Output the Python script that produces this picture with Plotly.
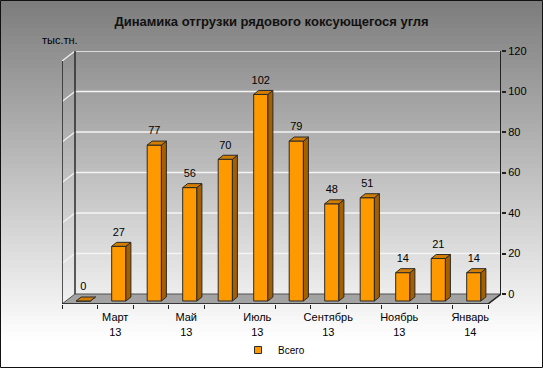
import plotly.graph_objects as go

# ---------------- data ----------------
months = ["Февраль 13", "Март 13", "Апрель 13", "Май 13", "Июнь 13", "Июль 13",
          "Август 13", "Сентябрь 13", "Октябрь 13", "Ноябрь 13", "Декабрь 13", "Январь 14"]
values = [0, 27, 77, 56, 70, 102, 79, 48, 51, 14, 21, 14]
tick_labels = ["Март<br>13", "Май<br>13", "Июль<br>13", "Сентябрь<br>13", "Ноябрь<br>13", "Январь<br>14"]
tick_months = ["Март 13", "Май 13", "Июль 13", "Сентябрь 13", "Ноябрь 13", "Январь 14"]
y_ticks = [0, 20, 40, 60, 80, 100, 120]
series_name = "Всего"
title_text = "Динамика отгрузки рядового коксующегося угля"
unit_text = "тыс.тн."

# ---------------- layout geometry (style) ----------------
W, H = 543, 368
L, R, T, B = 62, 501, 51, 304
PW, PH = R - L, B - T
XSTEP = 35.5            # px per category
YS = 2.025              # px per unit
BAR_BASE_PX = 301
BACK_ZERO_PX = 294
DX = 13 / XSTEP         # wall depth in x units
DY2 = 10 / YS           # wall depth in y units
BW = 0.40               # bar width
BSHIFT = 0.10           # bar centre shift
BDX = 5 / XSTEP         # bar depth
BDY = 4 / YS
LABEL_LIFT = 4 / YS

FONT = "Arial, Liberation Sans, sans-serif"
ORANGE = "#FF9900"
SIDE = "#A35F00"
TOP = "#D27D00"
EDGE = "#2a2a2a"

x_pos = list(range(len(values)))
x_idx = {m: i for i, m in enumerate(months)}
label_pos = [x_idx[m] for m in tick_months]
x_range = [-0.5, -0.5 + PW / XSTEP]
y_range = [-(B - BAR_BASE_PX) / YS, (BAR_BASE_PX - T) / YS]
y2_range = [-(B - BACK_ZERO_PX) / YS, (BACK_ZERO_PX - T) / YS]


def px_to_paper_x(px):
    return (px - L) / PW


def px_to_paper_y(py):
    return (B - py) / PH


fig = go.Figure()

# front faces
fig.add_trace(go.Bar(
    x=x_pos, y=values, width=BW, offset=BSHIFT - BW / 2,
    marker=dict(color=ORANGE, line=dict(color=EDGE, width=1)),
    name=series_name, showlegend=False, hoverinfo="y",
))

# side and top faces
sx, sy, tx, ty = [], [], [], []
for i, v in zip(x_pos, values):
    xl = i + BSHIFT - BW / 2
    xr = i + BSHIFT + BW / 2
    sx += [xr, xr, xr + BDX, xr + BDX, xr, None]
    sy += [0, v, v + BDY, BDY, 0, None]
    tx += [xl, xr, xr + BDX, xl + BDX, xl, None]
    ty += [v, v, v + BDY, v + BDY, v, None]
fig.add_trace(go.Scatter(x=sx, y=sy, mode="lines", fill="toself", fillcolor=SIDE,
                         line=dict(color=EDGE, width=1), showlegend=False, hoverinfo="skip"))
fig.add_trace(go.Scatter(x=tx, y=ty, mode="lines", fill="toself", fillcolor=TOP,
                         line=dict(color=EDGE, width=1), showlegend=False, hoverinfo="skip"))

# data labels
fig.add_trace(go.Scatter(
    x=[i + BSHIFT for i in x_pos], y=[v + BDY + LABEL_LIFT for v in values],
    mode="text", text=[str(v) for v in values], textposition="top center",
    textfont=dict(family=FONT, size=11, color="#000"),
    showlegend=False, hoverinfo="skip", cliponaxis=False,
))

# legend entry
fig.add_trace(go.Scatter(
    x=[None], y=[None], mode="markers", name=series_name,
    marker=dict(symbol="square", size=7, color=ORANGE, line=dict(color=EDGE, width=1)),
))

# anchor trace for the right axis
fig.add_trace(go.Scatter(x=[None], y=[None], yaxis="y2", showlegend=False, hoverinfo="skip"))

shapes = []
# background gradient
for k in range(0, H, 4):
    mid = k + 2
    g = int(round(124 + 131 * min(mid / 340, 1)))
    shapes.append(dict(type="rect", xref="paper", yref="paper", layer="below",
                       x0=px_to_paper_x(-1), x1=px_to_paper_x(W + 1),
                       y0=px_to_paper_y(k + 4), y1=px_to_paper_y(k),
                       fillcolor=f"rgb({g},{g},{g})", line=dict(width=0)))

xl0 = x_range[0]
xb0 = x_range[0] + DX
xr1 = x_range[1]
xf1 = x_range[1] - DX
ytop = y_ticks[-1]

# floor
shapes.append(dict(type="path", xref="x", yref="y2", layer="below",
                   path=f"M{xl0},{-DY2} L{xf1},{-DY2} L{xr1},0 L{xb0},0 Z",
                   fillcolor="#a3a3a3", line=dict(color="#505050", width=1)))
# front edge of floor
shapes.append(dict(type="line", xref="x", yref="y2", layer="below",
                   x0=xl0, x1=xf1, y0=-DY2, y1=-DY2, line=dict(color="#222", width=1.5)))
shapes.append(dict(type="line", xref="x", yref="y2", layer="below",
                   x0=xf1, x1=xr1, y0=-DY2, y1=0, line=dict(color="#222", width=1.5)))

# gridlines (back wall + left wall)
for v in y_ticks[1:]:
    shapes.append(dict(type="line", xref="x", yref="y2", layer="below",
                       x0=xb0, x1=xr1, y0=v, y1=v, line=dict(color="#f4f4f4", width=1.5)))
    shapes.append(dict(type="line", xref="x", yref="y2", layer="below",
                       x0=xl0, x1=xb0, y0=v - DY2, y1=v, line=dict(color="#f4f4f4", width=1.2)))

# wall edges
shapes.append(dict(type="line", xref="x", yref="y2", layer="below",
                   x0=xl0, x1=xl0, y0=-DY2, y1=ytop - DY2, line=dict(color="#222", width=1.5)))
shapes.append(dict(type="line", xref="x", yref="y2", layer="below",
                   x0=xb0, x1=xb0, y0=0, y1=ytop, line=dict(color="#2a2a2a", width=1.5)))
# right axis line
shapes.append(dict(type="line", xref="x", yref="y2", layer="below",
                   x0=xr1, x1=xr1, y0=0, y1=ytop, line=dict(color="#222", width=2)))

# outer border
shapes.append(dict(type="rect", xref="paper", yref="paper", layer="above",
                   x0=px_to_paper_x(0.5), x1=px_to_paper_x(W - 0.5),
                   y0=px_to_paper_y(H - 0.5), y1=px_to_paper_y(0.5),
                   line=dict(color="#111", width=1)))

fig.update_layout(
    width=W, height=H,
    margin=dict(l=L, r=W - R, t=T, b=H - B, pad=0, autoexpand=False),
    paper_bgcolor="white", plot_bgcolor="rgba(0,0,0,0)",
    font=dict(family=FONT, size=11, color="#000"),
    title=dict(text=f"<b>{title_text}</b>", x=0.5, xref="container", xanchor="center",
               y=1 - 21 / H, yref="container", yanchor="middle",
               font=dict(family=FONT, size=13, color="#111")),
    xaxis=dict(range=x_range, showgrid=False, zeroline=False, showline=False,
               tickmode="array", tickvals=label_pos, ticktext=tick_labels,
               ticks="outside", ticklen=3, tickcolor="rgba(0,0,0,0)",
               tickfont=dict(family=FONT, size=11, color="#000"),
               minor=dict(tick0=-0.5, dtick=1, ticks="outside", ticklen=4,
                          tickcolor="#222", tickwidth=1, showgrid=False),
               fixedrange=True, automargin=False),
    yaxis=dict(range=y_range, visible=False, fixedrange=True),
    yaxis2=dict(range=y2_range, overlaying="y", side="right", anchor="x",
                tickmode="array", tickvals=y_ticks, showgrid=False, zeroline=False,
                showline=False, ticks="outside", ticklen=4, tickcolor="#222", tickwidth=1.5,
                tickfont=dict(family=FONT, size=11, color="#000"), fixedrange=True,
                automargin=False),
    shapes=shapes,
    legend=dict(orientation="h", x=px_to_paper_x(238), xanchor="left",
                y=px_to_paper_y(350), yanchor="middle",
                bgcolor="rgba(0,0,0,0)", font=dict(family=FONT, size=10, color="#000"),
                itemwidth=30),
    annotations=[dict(text=unit_text, xref="paper", yref="paper",
                      x=px_to_paper_x(40), y=px_to_paper_y(40), xanchor="left", yanchor="middle",
                      showarrow=False, font=dict(family=FONT, size=11, color="#000"))],
    showlegend=True,
)

fig.write_html("out.html", config={"displayModeBar": False},
               post_script="document.body.style.margin='0';document.body.style.padding='0';document.body.style.overflow='hidden';")
